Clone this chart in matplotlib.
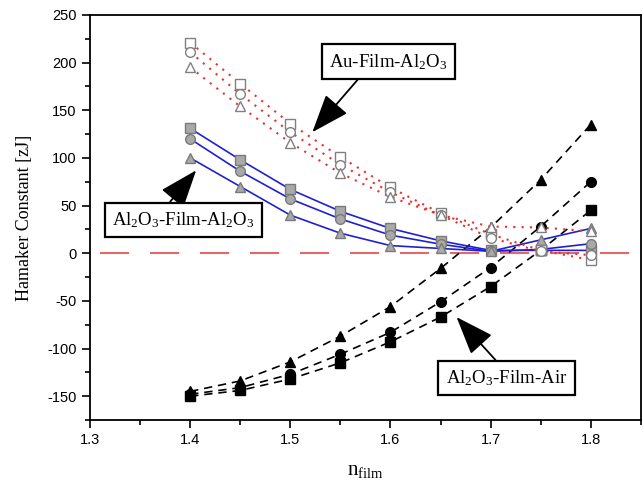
import matplotlib
matplotlib.use("Agg")
import matplotlib.pyplot as plt

plt.rcParams["font.family"] = "Liberation Sans"
plt.rcParams["axes.unicode_minus"] = False
plt.rcParams["mathtext.fontset"] = "custom"
plt.rcParams["mathtext.rm"] = "Liberation Serif"
plt.rcParams["mathtext.it"] = "Liberation Serif:italic"

# refractive index of the film
n_film = [1.40, 1.45, 1.50, 1.55, 1.60, 1.65, 1.70, 1.75, 1.80]

# Au-Film-Al2O3 (hollow markers, red dotted)
au_sq = [221, 178, 136, 101, 69, 42, 20, 3, -7]
au_ci = [211, 167, 127, 93, 64, 40, 16, 2, -2]
au_tr = [195, 154, 116, 84, 59, 40, 28, 27, 23]

# Al2O3-Film-Al2O3 (grey markers, blue solid)
al_sq = [131, 98, 67, 44, 26, 13, 3, 3, 3]
al_ci = [120, 86, 57, 36, 19, 9.5, 2, 4, 10]
al_tr = [100, 70, 40, 21, 8, 5, 2, 14, 26]

# Al2O3-Film-Air (black markers, black dashed)
air_sq = [-150, -144, -132, -115, -93, -67, -35, 3, 45]
air_ci = [-148, -141, -127, -106, -83, -51, -15, 28, 75]
air_tr = [-145, -134, -114, -87, -56, -16, 27, 77, 135]

fig = plt.figure(figsize=(6.44, 4.91), dpi=100)
ax = fig.add_axes([0.1398, 0.1446, 0.8552, 0.8249])

ax.axhline(0, xmin=0.018, color="#e06a6a", lw=1.5, dashes=(14, 10))

ms = 7
# Air
for y, m in [(air_sq, "s"), (air_ci, "o"), (air_tr, "^")]:
    ax.plot(n_film, y, color="black", lw=1.2, dashes=(5, 3.5), marker=m,
            ms=ms, mfc="black", mec="black")
# Al2O3-Al2O3
for y, m in [(al_sq, "s"), (al_ci, "o"), (al_tr, "^")]:
    ax.plot(n_film, y, color="#2020d0", lw=1.2, zorder=3)
    ax.plot(n_film, y, ls="none", marker=m, ms=ms, mfc="#a9a9a9",
            mec="#7a7a7a", mew=1.0, zorder=4)
# Au
for y, m in [(au_sq, "s"), (au_ci, "o"), (au_tr, "^")]:
    ax.plot(n_film, y, color="#e83030", lw=1.5, ls=(0, (1, 3)), zorder=3)
    ax.plot(n_film, y, ls="none", marker=m, ms=ms, mfc="white",
            mec="#808080", mew=1.0, zorder=4)

ax.set_xlim(1.3, 1.845)
ax.set_ylim(-175, 250)
ax.set_xticks([1.3, 1.4, 1.5, 1.6, 1.7, 1.8])
ax.set_xticks([1.35, 1.45, 1.55, 1.65, 1.75, 1.85], minor=True)
ax.set_yticks(range(-150, 251, 50))
ax.set_yticks(range(-175, 251, 25), minor=True)
ax.tick_params(which="major", direction="out", length=6, width=1.2,
               labelsize=10.5, top=False, right=False)
ax.tick_params(which="minor", direction="out", length=3.5, width=1.2,
               top=False, right=False)
for s in ax.spines.values():
    s.set_linewidth(1.3)

ax.set_xlabel(r"n$_{\mathrm{film}}$", family="Liberation Serif", fontsize=15,
              labelpad=10)
ax.set_ylabel("Hamaker Constant [zJ]", family="Liberation Serif",
              fontsize=13, labelpad=10)

box = dict(boxstyle="square,pad=0.4", fc="white", ec="black", lw=1.6)


def arrow(rel):
    return dict(arrowstyle="-|>,head_length=1.2,head_width=0.45",
                mutation_scale=20, color="black", lw=1.3,
                shrinkA=0, shrinkB=0, relpos=rel)


ax.annotate(r"Au-Film-Al$_2$O$_3$", xy=(1.522, 127), xytext=(1.598, 201),
            family="Liberation Serif", fontsize=13.5, ha="center",
            va="center", bbox=box, arrowprops=arrow((0.3, 0.0)), zorder=6)
ax.annotate(r"Al$_2$O$_3$-Film-Al$_2$O$_3$", xy=(1.406, 87),
            xytext=(1.393, 35), family="Liberation Serif", fontsize=13.5,
            ha="center", va="center", bbox=box,
            arrowprops=arrow((0.36, 1.0)), zorder=6)
ax.annotate(r"Al$_2$O$_3$-Film-Air", xy=(1.666, -67), xytext=(1.716, -131),
            family="Liberation Serif", fontsize=13.5, ha="center",
            va="center", bbox=box, arrowprops=arrow((0.47, 1.0)), zorder=6)

fig.savefig("out.png", dpi=100)
